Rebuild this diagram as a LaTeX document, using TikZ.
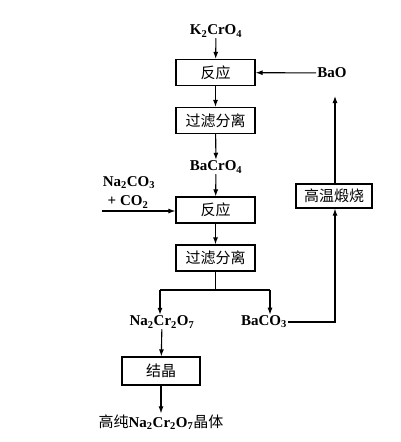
\documentclass[tikz,border=0pt]{standalone}
\usepackage{fontspec}
\setmainfont{Liberation Serif}
\newfontfamily\cjk{Noto Sans CJK SC}
\usetikzlibrary{arrows.meta}
\begin{document}
\begin{tikzpicture}[x=1pt,y=-1pt,
  box/.style={draw, line width=1.2pt, minimum width=79pt, minimum height=26pt, inner sep=0pt, font=\cjk\fontsize{15}{15}\selectfont},
  chem/.style={font=\bfseries\fontsize{15}{15}\selectfont, inner sep=1pt},
  arr/.style={-{Latex[length=7pt,width=5pt]}, line width=1.1pt},
  ln/.style={line width=1.1pt}]
\useasboundingbox (0,0) rectangle (400,442);
\node[chem] (k2) at (216,31) {K\textsubscript{2}CrO\textsubscript{4}};
\node[box] (r1) at (215.5,72.5) {反应};
\node[chem] (bao) at (332,73) {BaO};
\node[box] (f1) at (215.5,120.5) {过滤分离};
\node[chem] (bacro) at (216,167) {BaCrO\textsubscript{4}};
\node[chem] (na2co3) at (129,183) {Na\textsubscript{2}CO\textsubscript{3}};
\node[chem] (co2) at (128,202) {+ CO\textsubscript{2}};
\coordinate (in2) at (102,211);
\node[box] (r2) at (215.5,210) {反应};
\node[box] (f2) at (215.5,258) {过滤分离};
\node[box, minimum width=76pt, minimum height=24pt] (gw) at (334,196) {高温煅烧};
\coordinate (split) at (215.5,290);
\coordinate (sl) at (160,290);
\coordinate (sr) at (270,290);
\node[chem] (na2) at (162,322) {Na\textsubscript{2}Cr\textsubscript{2}O\textsubscript{7}};
\node[chem] (baco3) at (264,322) {BaCO\textsubscript{3}};
\coordinate (corner) at (335,322);
\coordinate (up) at (335,96);
\node[box, minimum width=78pt, minimum height=28pt] (jj) at (161,371) {结晶};
\node[font=\fontsize{15}{15}\selectfont, inner sep=1pt] (final) at (161,422) {{\cjk 高纯}\textbf{Na\textsubscript{2}Cr\textsubscript{2}O\textsubscript{7}}{\cjk 晶体}};

\draw[arr] (k2) -- (r1);
\draw[arr] (bao) -- (r1);
\draw[arr] (r1) -- (f1);
\draw[arr] (f1) -- (bacro);
\draw[arr] (bacro) -- (r2);
\draw[arr] (in2) -- (r2.west |- in2);
\draw[arr] (r2) -- (f2);
\draw[ln] (f2) -- (split);
\draw[ln] (sl) -- (sr);
\draw[arr] (sl) -- (sl |- na2.north);
\draw[arr] (sr) -- (sr |- baco3.north);
\draw[arr] (na2) -- (jj);
\draw[arr] (jj) -- (final);
\draw[arr] (baco3.east) -- (corner) -- (corner |- gw.south);
\draw[arr] (up |- gw.north) -- (up);
\end{tikzpicture}
\end{document}
